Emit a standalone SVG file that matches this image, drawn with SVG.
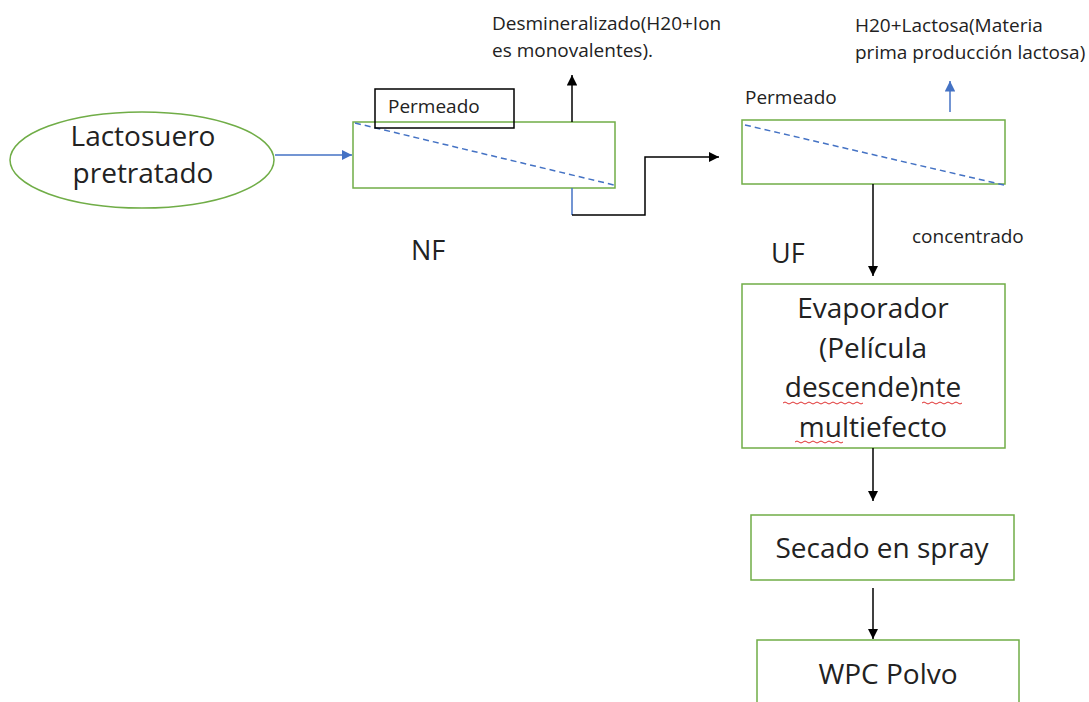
<svg xmlns="http://www.w3.org/2000/svg" width="1089" height="702" viewBox="0 0 1089 702">
<defs>
<style>
.box{fill:#fff;stroke:#70ad47;stroke-width:1.5}
.big{font-family:"Open Sans","Liberation Sans",sans-serif;font-size:28px;fill:#222}
.sm{font-family:"Open Sans","Liberation Sans",sans-serif;font-size:19px;fill:#222}
.lbl{font-family:"Open Sans","Liberation Sans",sans-serif;font-size:27px;fill:#222}
.blk{stroke:#000;stroke-width:1.5;fill:none}
.blu{stroke:#4472c4;stroke-width:1.5;fill:none}
.dash{stroke:#4472c4;stroke-width:1.5;stroke-dasharray:6 4;fill:none}
.wave{stroke:#e03030;stroke-width:1;fill:none}
</style>
<marker id="ab" viewBox="0 0 10 10" refX="10" refY="5" markerWidth="7" markerHeight="7" orient="auto"><path d="M0,0 L10,5 L0,10 z" fill="#000"/></marker>
<marker id="au" viewBox="0 0 10 10" refX="10" refY="5" markerWidth="7" markerHeight="7" orient="auto"><path d="M0,0 L10,5 L0,10 z" fill="#4472c4"/></marker>
</defs>
<rect width="1089" height="702" fill="#fff"/>
<g id="lactosuero">
<ellipse class="box" cx="142" cy="160" rx="132" ry="48"/>
<text class="big" x="143" y="146" text-anchor="middle">Lactosuero</text>
<text class="big" x="143" y="183" text-anchor="middle">pretratado</text>
</g>
<g id="nf">
<rect class="box" x="353" y="122" width="262" height="66"/>
<line class="dash" x1="355" y1="123" x2="614" y2="185"/>
<rect x="375" y="89" width="139" height="39" fill="none" stroke="#000" stroke-width="1.5"/>
<text class="sm" x="388" y="113">Permeado</text>
<text class="lbl" x="411" y="260">NF</text>
</g>
<g id="uf">
<rect class="box" x="742" y="120" width="263" height="64"/>
<line class="dash" x1="745" y1="125" x2="1004" y2="185"/>
<text class="sm" x="745" y="104">Permeado</text>
<text class="lbl" x="771" y="263">UF</text>
<text class="sm" x="912" y="243">concentrado</text>
</g>
<g id="desmineralizado">
<text class="sm" x="492" y="30">Desmineralizado(H20+Ion</text>
<text class="sm" x="492" y="57">es monovalentes).</text>
</g>
<g id="lactosa">
<text class="sm" x="855" y="32">H20+Lactosa(Materia</text>
<text class="sm" x="855" y="59">prima producción lactosa)</text>
</g>
<g id="evaporador">
<rect class="box" x="742" y="284" width="263" height="164"/>
<text class="big" x="873" y="318" text-anchor="middle">Evaporador</text>
<text class="big" x="873" y="358" text-anchor="middle">(Película</text>
<text class="big" x="873" y="397" text-anchor="middle">descende)nte</text>
<text class="big" x="873" y="437" text-anchor="middle">multiefecto</text>
<path class="wave" d="M783,403 q2,-2 4,0 t4,0 t4,0 t4,0 t4,0 t4,0 t4,0 t4,0 t4,0 t4,0 t4,0 t4,0 t4,0 t4,0 t4,0 t4,0 t4,0 t4,0 t4,0 t4,0"/>
<path class="wave" d="M922,403 q2,-2 4,0 t4,0 t4,0 t4,0 t4,0 t4,0 t4,0 t4,0 t4,0 t4,0"/>
<path class="wave" d="M795,442 q2,-2 4,0 t4,0 t4,0 t4,0 t4,0 t4,0 t4,0 t4,0 t4,0 t4,0 t4,0 t4,0"/>
</g>
<g id="secado">
<rect class="box" x="751" y="515" width="263" height="65"/>
<text class="big" x="882" y="558" text-anchor="middle">Secado en spray</text>
</g>
<g id="wpc">
<rect class="box" x="757" y="640" width="262" height="80"/>
<text class="big" x="888" y="684" text-anchor="middle">WPC Polvo</text>
</g>
<g id="connectors">
<line class="blu" x1="275" y1="155" x2="352" y2="155" marker-end="url(#au)"/>
<line class="blk" x1="572" y1="122" x2="572" y2="75" marker-end="url(#ab)"/>
<line class="blu" x1="572" y1="188" x2="572" y2="215"/>
<polyline class="blk" points="572,215 645,215 645,157 719,157" marker-end="url(#ab)"/>
<line class="blu" x1="950" y1="112" x2="950" y2="81" marker-end="url(#au)"/>
<line class="blk" x1="873" y1="184" x2="873" y2="276" marker-end="url(#ab)"/>
<line class="blk" x1="873" y1="448" x2="873" y2="501" marker-end="url(#ab)"/>
<line class="blk" x1="873" y1="588" x2="873" y2="639" marker-end="url(#ab)"/>
</g>
</svg>
